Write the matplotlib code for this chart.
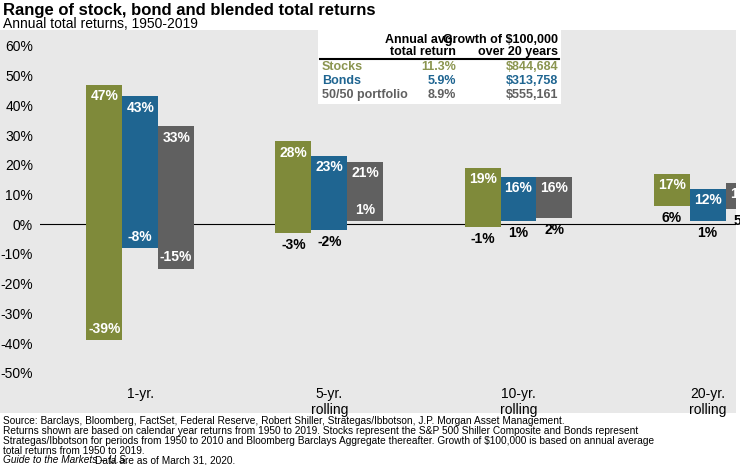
import matplotlib
matplotlib.use("Agg")
import matplotlib.pyplot as plt
from matplotlib.patches import Rectangle
import numpy as np

plt.rcParams["font.family"] = ["Liberation Sans Narrow", "Liberation Sans", "DejaVu Sans"]

categories = ["1-yr.", "5-yr.\nrolling", "10-yr.\nrolling", "20-yr.\nrolling"]
series = ["Stocks", "Bonds", "50/50 portfolio"]
highs = {"Stocks": [47, 28, 19, 17], "Bonds": [43, 23, 16, 12], "50/50 portfolio": [33, 21, 16, 14]}
lows = {"Stocks": [-39, -3, -1, 6], "Bonds": [-8, -2, 1, 1], "50/50 portfolio": [-15, 1, 2, 5]}
avg_ret = ["11.3%", "5.9%", "8.9%"]
growth = ["$844,684", "$313,758", "$555,161"]
yticks = [60, 50, 40, 30, 20, 10, 0, -10, -20, -30, -40, -50]
colors = ["#7f8a3a", "#1f6591", "#606060"]
txtcolors = ["#8b9550", "#1f6591", "#606060"]
low_inside = {"Stocks": [True, False, False, False], "Bonds": [True, False, False, False],
              "50/50 portfolio": [True, True, False, False]}

W, H = 740, 465
fx = lambda px: px / W
fy = lambda py: 1 - py / H
fig = plt.figure(figsize=(W/100, H/100), dpi=100)
fig.patch.set_facecolor("white")
bg = fig.add_axes([0, fy(413), 736/W, (413-30)/H], zorder=-5)
bg.set_facecolor("#e8e8e8"); bg.set_xticks([]); bg.set_yticks([])
for s in bg.spines.values():
    s.set_visible(False)

ax = fig.add_axes([40/W, fy(380), (736-40)/W, 340/H], zorder=1)
ax.set_facecolor("none")
ax.set_xlim(-0.5, 3.18)
ax.set_ylim(-52.4, 62)
for s in ax.spines.values():
    s.set_visible(False)
ax.set_yticks(yticks)
ax.set_yticklabels([f"{v}%" for v in yticks], fontsize=10)
ax.tick_params(length=0, pad=5)
x = np.arange(len(categories))
ax.set_xticks(x + 0.03)
ax.set_xticklabels(categories, fontsize=10)
ax.axhline(0, color="black", lw=0.8, zorder=1)
bw = 0.19
for i, s in enumerate(series):
    xs = x + (i - 1) * bw + 0.03
    hi = np.array(highs[s]); lo = np.array(lows[s])
    ax.bar(xs, hi - lo, bottom=lo, width=bw, color=colors[i], zorder=2)
    for j in range(len(x)):
        ax.text(xs[j], hi[j] - 1.5, f"{hi[j]}%", ha="center", va="top", color="white",
                fontsize=10, fontweight="bold", zorder=3)
        if low_inside[s][j]:
            ax.text(xs[j], lo[j] + 1.5, f"{lo[j]}%", ha="center", va="bottom", color="white",
                    fontsize=10, fontweight="bold", zorder=3)
        else:
            ax.text(xs[j], lo[j] - 1.5, f"{lo[j]}%", ha="center", va="top", color="black",
                    fontsize=10, fontweight="bold", zorder=3)

fig.text(3/W, fy(11), "Range of stock, bond and blended total returns", fontsize=12,
         fontweight="bold", va="center")
fig.text(3/W, fy(24), "Annual total returns, 1950-2019", fontsize=10, va="center")

# table
tb = fig.add_axes([318/W, fy(104), 243/W, 74/H], zorder=2)
tb.set_facecolor("white"); tb.set_xticks([]); tb.set_yticks([])
for s in tb.spines.values():
    s.set_visible(False)
fig.text(fx(456), fy(40), "Annual avg.", ha="right", va="center", fontsize=9, fontweight="bold", zorder=3)
fig.text(fx(456), fy(52), "total return", ha="right", va="center", fontsize=9, fontweight="bold", zorder=3)
fig.text(fx(558), fy(40), "Growth of $100,000", ha="right", va="center", fontsize=9, fontweight="bold", zorder=3)
fig.text(fx(558), fy(52), "over 20 years", ha="right", va="center", fontsize=9, fontweight="bold", zorder=3)
fig.lines.append(plt.Line2D([fx(320), fx(559)], [fy(59), fy(59)], transform=fig.transFigure,
                            color="black", lw=1.5, zorder=3))
for i, s in enumerate(series):
    yy = fy(67 + i * 14)
    fig.text(fx(322), yy, s, va="center", fontsize=9, fontweight="bold", color=txtcolors[i], zorder=3)
    fig.text(fx(456), yy, avg_ret[i], ha="right", va="center", fontsize=9, fontweight="bold", color=txtcolors[i], zorder=3)
    fig.text(fx(558), yy, growth[i], ha="right", va="center", fontsize=9, fontweight="bold", color=txtcolors[i], zorder=3)

foot = ("Source: Barclays, Bloomberg, FactSet, Federal Reserve, Robert Shiller, Strategas/Ibbotson, J.P. Morgan Asset Management.\n"
        "Returns shown are based on calendar year returns from 1950 to 2019. Stocks represent the S&P 500 Shiller Composite and Bonds represent\n"
        "Strategas/Ibbotson for periods from 1950 to 2010 and Bloomberg Barclays Aggregate thereafter. Growth of $100,000 is based on annual average\n"
        "total returns from 1950 to 2019.")
fig.text(3/W, fy(416), foot, va="top", fontsize=7.3, linespacing=1.0)
fig.text(3/W, fy(455), "Guide to the Markets – U.S.", va="top", fontsize=7.3, style="italic")
fig.text(95/W, fy(455), "Data are as of March 31, 2020.", va="top", fontsize=7.3)

fig.savefig("out.png", dpi=100)
